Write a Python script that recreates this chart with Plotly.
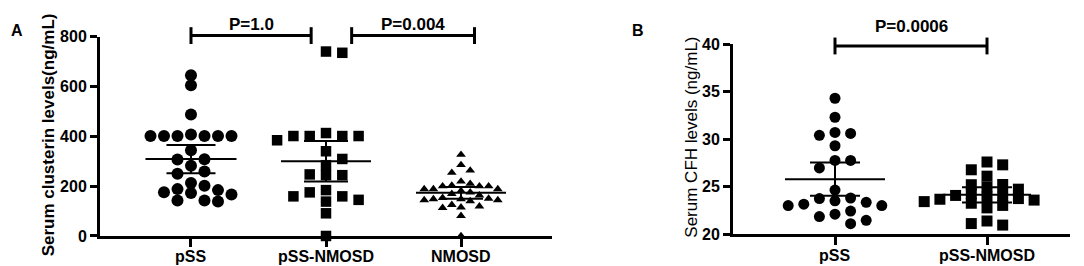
import numpy as np
import plotly.graph_objects as go

W, H = 1084, 266
FONT = "Arial, 'Liberation Sans', sans-serif"

# ---------------- data ----------------
a_groups = ["pSS", "pSS-NMOSD", "NMOSD"]
a_pss = [645, 605, 487, 401, 401, 401, 407, 401, 401, 401, 344, 307, 308, 282,
         250, 259, 213, 184, 188, 202, 175, 142, 172, 142, 166, 138]
a_pss_nmosd = [740, 735, 413, 401, 401, 384, 401, 401, 340, 309, 284, 247, 244,
               244, 184, 138, 159, 175, 145, 159, 91, 0]
a_nmosd = [326, 263, 285, 254, 200, 210, 203, 200, 219, 200, 175, 188, 188, 188,
           169, 181, 144, 144, 148, 163, 148, 153, 150, 140, 119, 113, 125, 115, 81, 0]
a_yticks = [0, 200, 400, 600, 800]
a_ytitle = "Serum clusterin levels(ng/mL)"
a_pvals = ["P=1.0", "P=0.004"]

b_groups = ["pSS", "pSS-NMOSD"]
b_pss = [34.3, 32.3, 30.6, 30.7, 30.4, 29.3, 27.75, 27.75, 26.97, 24.63, 23.74, 23.8,
         23.5, 23.0, 23.15, 23.0, 23.35, 22.43, 22.1, 21.84, 21.1, 21.45]
b_pss_nmosd = [26.77, 27.29, 27.59, 26.1, 25.2, 25.22, 24.96, 24.24, 23.42, 23.74,
               24.07, 23.25, 23.91, 22.76, 24.07, 23.02, 23.58, 24.73, 23.67, 20.95,
               21.38, 21.11]
b_yticks = [20, 25, 30, 35, 40]
b_ytitle = "Serum CFH levels (ng/mL)"
b_pvals = ["P=0.0006"]

# ---------------- geometry (pixels) ----------------
A_XPX = (92, 544); A_YPX = (22, 235); A_XR = [-0.674, 2.674]; A_YR = [0, 800]
B_XPX = (725, 1062); B_YPX = (30, 233); B_XR = [-0.671, 1.546]; B_YR = [20, 40]


def dom_x(p):
    return [p[0] / W, p[1] / W]


def dom_y(p):
    return [1 - p[1] / H, 1 - p[0] / H]


def ppu_x(p, r):
    return (p[1] - p[0]) / (r[1] - r[0])


def ppu_y(p, r):
    return (p[1] - p[0]) / (r[1] - r[0])


def paper_x(v, p, r):
    return (p[0] + (v - r[0]) * ppu_x(p, r)) / W


def paper_y(v, p, r):
    return 1 - (p[1] - (v - r[0]) * ppu_y(p, r)) / H


def swarm(values, xppu, yppu, spacing_px, min_dist):
    """Grid beeswarm: each point takes the free slot nearest the centre,
    alternating the preferred side to keep the swarm balanced."""
    vals = np.asarray(values, float)
    order = np.argsort(-vals, kind="stable")
    placed = []
    offs = np.zeros(len(vals))
    side = 1
    for i in order:
        y = vals[i] * yppu
        cands = [0]
        for j in range(1, 30):
            cands += [side * j, -side * j]
        xsel = 0.0
        for c in cands:
            x = c * spacing_px
            if all((x - px) ** 2 + (y - py) ** 2 >= min_dist ** 2 for px, py in placed):
                xsel = x
                break
        if xsel != 0:
            side = -1 if xsel > 0 else 1
        placed.append((xsel, y))
        offs[i] = xsel / xppu
    return offs


def mean_ci(v):
    v = np.asarray(v, float)
    n = len(v)
    m = v.mean()
    se = v.std(ddof=1) / np.sqrt(n)
    z = 1.959964
    df = n - 1
    t = z + (z ** 3 + z) / (4 * df) + (5 * z ** 5 + 16 * z ** 3 + 3 * z) / (96 * df ** 2)
    return m, t * se


fig = go.Figure()


def add_group(values, pos, xa, ya, xp, xr, yp, yr, symbol, size, spacing, mind,
              mean_half_px, cap_half_px):
    xppu = ppu_x(xp, xr)
    yppu = ppu_y(yp, yr)
    offs = swarm([v - yr[0] for v in values], xppu, yppu, spacing, mind)
    fig.add_trace(go.Scatter(
        x=pos + offs, y=values, mode="markers", xaxis=xa, yaxis=ya,
        marker=dict(symbol=symbol, size=size, color="black", line=dict(width=0)),
        cliponaxis=False, showlegend=False, hoverinfo="y"))
    m, ci = mean_ci(values)
    mh = mean_half_px / xppu
    ch = cap_half_px / xppu
    xs = [pos - mh, pos + mh, None, pos, pos, None, pos - ch, pos + ch, None, pos - ch, pos + ch]
    ys = [m, m, None, m - ci, m + ci, None, m + ci, m + ci, None, m - ci, m - ci]
    fig.add_trace(go.Scatter(
        x=xs, y=ys, mode="lines", xaxis=xa, yaxis=ya,
        line=dict(color="black", width=2), showlegend=False, hoverinfo="skip"))


# Panel A
add_group(a_pss, 0, "x", "y", A_XPX, A_XR, A_YPX, A_YR, "circle", 12, 13.5, 10.5, 45.5, 24.5)
add_group(a_pss_nmosd, 1, "x", "y", A_XPX, A_XR, A_YPX, A_YR, "square", 10.5, 16.3, 10.5, 45, 22)
add_group(a_nmosd, 2, "x", "y", A_XPX, A_XR, A_YPX, A_YR, "triangle-up", 8.5, 9.2, 8.6, 45, 22)

# Panel B
add_group(b_pss, 0, "x2", "y2", B_XPX, B_XR, B_YPX, B_YR, "circle", 11, 15.6, 11, 50, 25)
add_group(b_pss_nmosd, 1, "x2", "y2", B_XPX, B_XR, B_YPX, B_YR, "square", 11, 15.7, 9.5, 44, 25)

shapes = []
annotations = []
BOLD = dict(family=FONT, color="black", weight="bold")


def bracket(x0, x1, yv, cap_px, xp, xr, yp, yr, label, label_px_y):
    X0 = paper_x(x0, xp, xr)
    X1 = paper_x(x1, xp, xr)
    Y = paper_y(yv, yp, yr)
    c = cap_px / H
    ln = dict(color="black", width=3)
    shapes.append(dict(type="line", xref="paper", yref="paper", x0=X0, x1=X1, y0=Y, y1=Y, line=ln))
    shapes.append(dict(type="line", xref="paper", yref="paper", x0=X0, x1=X0, y0=Y - c, y1=Y + c, line=ln))
    shapes.append(dict(type="line", xref="paper", yref="paper", x0=X1, x1=X1, y0=Y - c, y1=Y + c, line=ln))
    annotations.append(dict(text=label, xref="paper", yref="paper", x=(X0 + X1) / 2,
                            y=1 - label_px_y / H, xanchor="center", yanchor="middle",
                            showarrow=False, font=dict(size=17, **BOLD)))


bracket(0, 0.89, 804, 9, A_XPX, A_XR, A_YPX, A_YR, a_pvals[0], 9)
bracket(1.19, 2.10, 804, 9, A_XPX, A_XR, A_YPX, A_YR, a_pvals[1], 9)
bracket(0, 1, 39.8, 9, B_XPX, B_XR, B_YPX, B_YR, b_pvals[0], 11)

# category labels (x tick labels)
for i, g in enumerate(a_groups):
    annotations.append(dict(text=g, xref="paper", yref="paper", x=paper_x(i, A_XPX, A_XR),
                            y=1 - 256.5 / H, xanchor="center", yanchor="middle",
                            showarrow=False, font=dict(size=16, **BOLD)))
for i, g in enumerate(b_groups):
    annotations.append(dict(text=g, xref="paper", yref="paper", x=paper_x(i, B_XPX, B_XR),
                            y=1 - 255.5 / H, xanchor="center", yanchor="middle",
                            showarrow=False, font=dict(size=16, **BOLD)))

# y titles
annotations.append(dict(text=a_ytitle, xref="paper", yref="paper", x=40 / W, y=1 - 127.5 / H,
                        textangle=-90, showarrow=False, xanchor="center", yanchor="middle",
                        font=dict(size=17, **BOLD)))
annotations.append(dict(text=b_ytitle, xref="paper", yref="paper", x=684 / W, y=1 - 130 / H,
                        textangle=-90, showarrow=False, xanchor="center", yanchor="middle",
                        font=dict(family=FONT, size=17, color="black")))
# panel letters
annotations.append(dict(text="A", xref="paper", yref="paper", x=9 / W, y=1 - 15 / H,
                        showarrow=False, xanchor="center", yanchor="middle",
                        font=dict(size=16, **BOLD)))
annotations.append(dict(text="B", xref="paper", yref="paper", x=630 / W, y=1 - 15 / H,
                        showarrow=False, xanchor="center", yanchor="middle",
                        font=dict(size=16, **BOLD)))

axis_common = dict(showline=True, linewidth=3, linecolor="black", ticks="outside",
                   tickwidth=3, tickcolor="black", showgrid=False, zeroline=False,
                   tickfont=dict(size=16, **BOLD), fixedrange=True)

fig.update_layout(
    width=W, height=H, margin=dict(l=0, r=0, t=0, b=0),
    paper_bgcolor="white", plot_bgcolor="white",
    xaxis=dict(domain=dom_x(A_XPX), range=A_XR, tickvals=[0, 1, 2], showticklabels=False,
               anchor="y", ticklen=8, **axis_common),
    yaxis=dict(domain=dom_y(A_YPX), range=A_YR, tickvals=a_yticks, anchor="x",
               ticklen=7, **axis_common),
    xaxis2=dict(domain=dom_x(B_XPX), range=B_XR, tickvals=[0, 1], showticklabels=False,
                anchor="y2", ticklen=8, **axis_common),
    yaxis2=dict(domain=dom_y(B_YPX), range=B_YR, tickvals=b_yticks, anchor="x2",
                ticklen=7, **axis_common),
    shapes=shapes, annotations=annotations, showlegend=False,
)

fig.write_html("out.html")
